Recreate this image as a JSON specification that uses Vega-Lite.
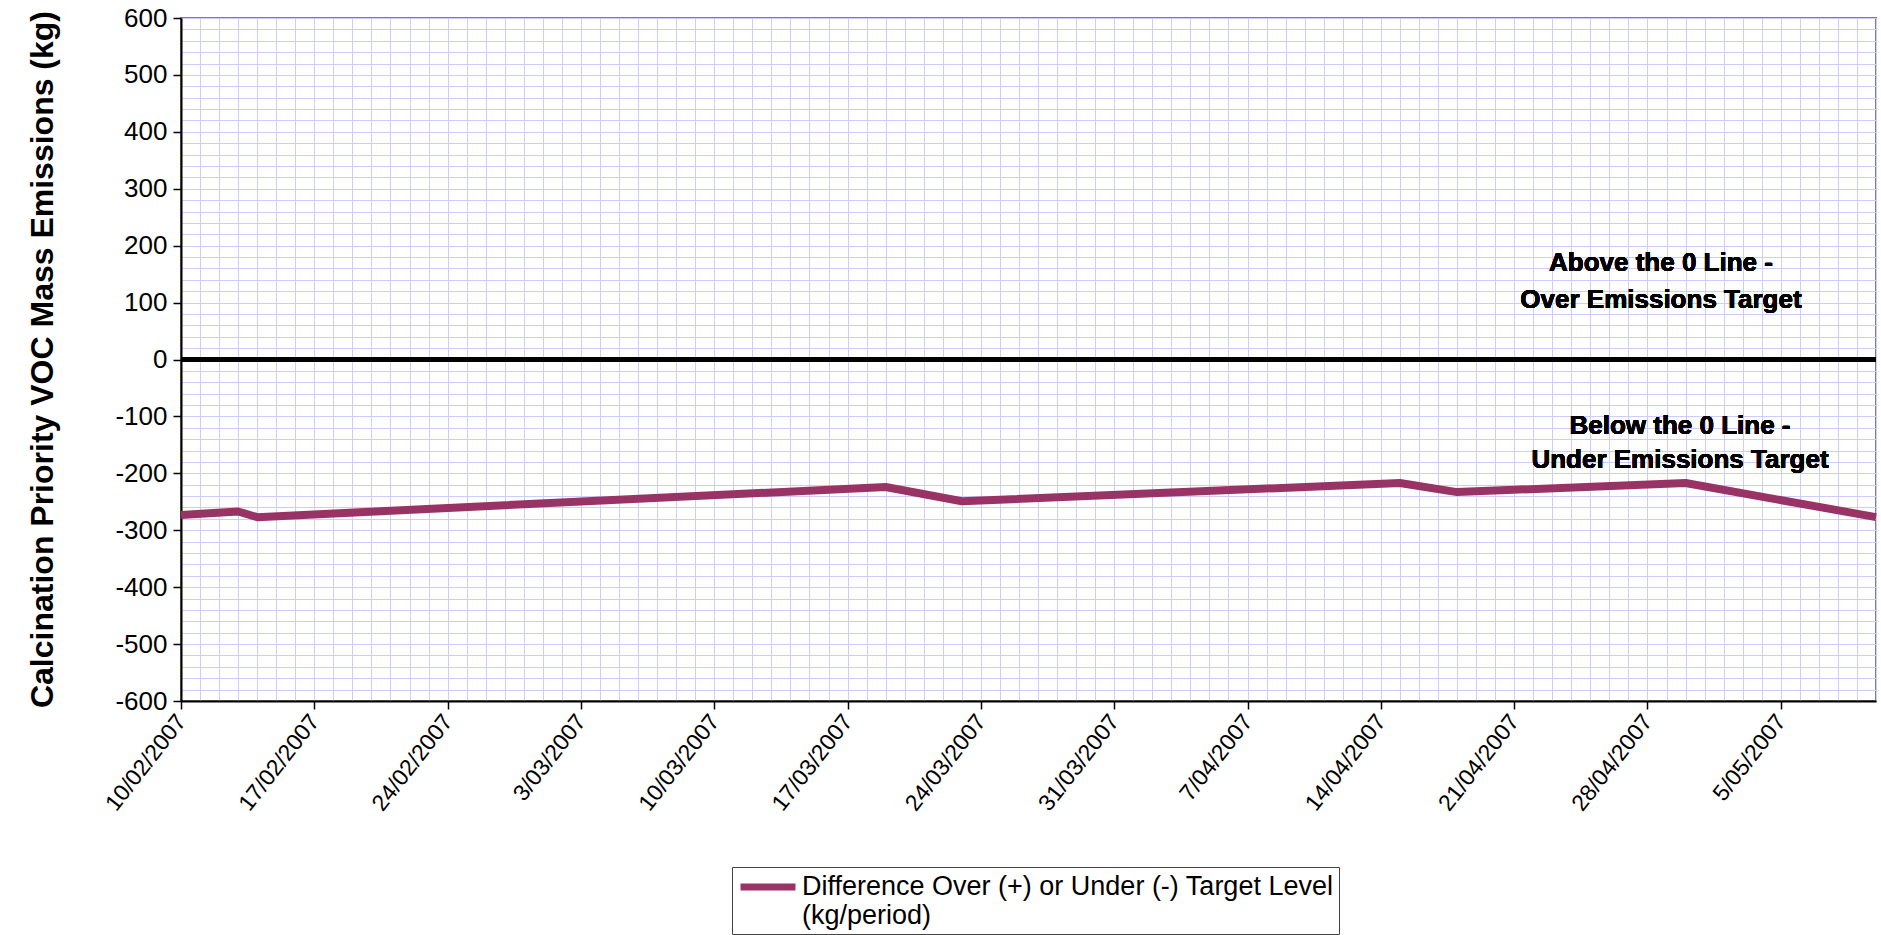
{
  "$schema": "https://vega.github.io/schema/vega-lite/v6.json",
  "autosize": {"type": "none"},
  "padding": {"left": 181, "top": 18, "right": 5, "bottom": 234},
  "width": 1695,
  "height": 683,
  "background": "white",
  "config": {
    "font": "Liberation Sans",
    "view": {"stroke": "#808080", "strokeWidth": 2}
  },
  "data": {
    "values": [
      {"date": "2007-02-10", "value": -273, "series": "Difference Over (+) or Under (-) Target Level|(kg/period)"},
      {"date": "2007-02-13", "value": -267, "series": "Difference Over (+) or Under (-) Target Level|(kg/period)"},
      {"date": "2007-02-14", "value": -277, "series": "Difference Over (+) or Under (-) Target Level|(kg/period)"},
      {"date": "2007-03-19", "value": -224, "series": "Difference Over (+) or Under (-) Target Level|(kg/period)"},
      {"date": "2007-03-23", "value": -249, "series": "Difference Over (+) or Under (-) Target Level|(kg/period)"},
      {"date": "2007-04-15", "value": -217, "series": "Difference Over (+) or Under (-) Target Level|(kg/period)"},
      {"date": "2007-04-18", "value": -233, "series": "Difference Over (+) or Under (-) Target Level|(kg/period)"},
      {"date": "2007-04-30", "value": -217, "series": "Difference Over (+) or Under (-) Target Level|(kg/period)"},
      {"date": "2007-05-10", "value": -277, "series": "Difference Over (+) or Under (-) Target Level|(kg/period)"}
    ]
  },
  "layer": [
    {
      "mark": {"type": "line", "strokeWidth": 8, "strokeJoin": "round"},
      "encoding": {
        "x": {
          "field": "date",
          "type": "temporal",
          "scale": {
            "type": "utc",
            "domain": [
              {"year": 2007, "month": 2, "date": 10, "utc": true},
              {"year": 2007, "month": 5, "date": 10, "utc": true}
            ]
          },
          "axis": {
            "title": null,
            "tickCount": {"interval": "day", "step": 1},
            "grid": true,
            "gridColor": "#ccccff",
            "gridWidth": 1,
            "domainColor": "#000000",
            "domainWidth": 2,
            "tickColor": "#000000",
            "tickSize": 8,
            "tickWidth": 1.5,
            "tickOpacity": {"condition": {"test": "utcday(datum.value) == 6", "value": 1}, "value": 0},
            "labelExpr": "utcday(datum.value) == 6 ? utcFormat(datum.value, '%-d/%m/%Y') : ''",
            "labelAngle": -52,
            "labelAlign": "right",
            "labelBaseline": "middle",
            "labelFontSize": 23,
            "labelColor": "#000000",
            "labelPadding": 8,
            "labelOverlap": false,
            "labelFlush": false
          }
        },
        "y": {
          "field": "value",
          "type": "quantitative",
          "scale": {"domain": [-600, 600], "nice": false, "zero": false},
          "axis": {
            "title": "Calcination Priority VOC Mass Emissions (kg)",
            "titleFontSize": 32,
            "titleFontWeight": "bold",
            "titleColor": "#000000",
            "titleX": -139,
            "titleY": 341,
            "titleAngle": -90,
            "titleAlign": "center",
            "titleBaseline": "middle",
            "tickCount": 60,
            "grid": true,
            "gridColor": "#ccccff",
            "gridWidth": 1,
            "domainColor": "#000000",
            "domainWidth": 2,
            "tickColor": "#000000",
            "tickSize": 8,
            "tickWidth": 1.5,
            "tickOpacity": {"condition": {"test": "datum.value % 100 === 0", "value": 1}, "value": 0},
            "labelExpr": "datum.value % 100 === 0 ? '' + datum.value : ''",
            "labelFontSize": 26,
            "labelColor": "#000000",
            "labelPadding": 6,
            "labelOverlap": false,
            "labelFlush": false
          }
        },
        "color": {
          "field": "series",
          "type": "nominal",
          "scale": {"range": ["#993366"]},
          "legend": {
            "title": null,
            "orient": "none",
            "legendX": 551,
            "legendY": 849,
            "direction": "vertical",
            "strokeColor": "#444444",
            "fillColor": "#ffffff",
            "padding": 5,
            "clipHeight": 30,
            "symbolType": "stroke",
            "symbolStrokeWidth": 7,
            "symbolSize": 3025,
            "symbolOffset": 0,
            "labelExpr": "split(datum.label, '|')",
            "labelFontSize": 27,
            "labelLineHeight": 31,
            "labelLimit": 2000,
            "labelColor": "#000000",
            "labelOffset": 3
          }
        }
      }
    },
    {
      "mark": {"type": "rule", "color": "#000000", "strokeWidth": 4},
      "encoding": {"y": {"datum": 0}}
    },
    {
      "mark": {"type": "text", "fontSize": 26, "fontWeight": "bold", "color": "#000000", "align": "center", "baseline": "middle", "lineHeight": 37},
      "encoding": {
        "x": {"datum": {"year": 2007, "month": 4, "date": 28, "hours": 17, "utc": true}, "type": "temporal"},
        "y": {"datum": 169},
        "text": {"value": ["Above the 0 Line -", "Over Emissions Target"]}
      }
    },
    {
      "mark": {"type": "text", "fontSize": 26, "fontWeight": "bold", "color": "#000000", "align": "center", "baseline": "middle", "lineHeight": 34},
      "encoding": {
        "x": {"datum": {"year": 2007, "month": 4, "date": 29, "hours": 17, "utc": true}, "type": "temporal"},
        "y": {"datum": -116},
        "text": {"value": ["Below the 0 Line -", "Under Emissions Target"]}
      }
    }
  ]
}
